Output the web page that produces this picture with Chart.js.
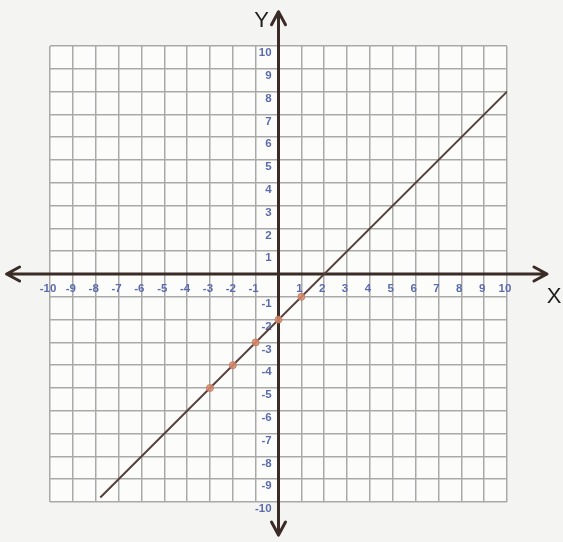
<!DOCTYPE html>
<html>
<head>
<meta charset="utf-8">
<script src="https://cdn.jsdelivr.net/npm/chart.js@4/dist/chart.umd.min.js"></script>
<style>
  html, body { margin: 0; padding: 0; background: #f4f4f2; }
  #wrap { width: 563px; height: 542px; position: relative; }
</style>
</head>
<body>
<div id="wrap"><canvas id="c" width="563" height="542"></canvas></div>
<script>
// ---- data ----
const axisNames = ['X', 'Y'];
const tickValues = [-10, -9, -8, -7, -6, -5, -4, -3, -2, -1, 0, 1, 2, 3, 4, 5, 6, 7, 8, 9, 10];
const lineX = [-7.8, 10];
const lineY = [-9.8, 8];
const pointX = [-3, -2, -1, 0, 1];
const pointY = [-5, -4, -3, -2, -1];
const arrowX = [-11.9, 11.75];
const arrowY = [-11.45, 11.5];

const linePts = lineX.map((x, i) => ({ x: x, y: lineY[i] }));
const markPts = pointX.map((x, i) => ({ x: x, y: pointY[i] }));

const AXIS_COLOR = '#3a2b26';
const TICK_COLOR = '#5b6cad';

const paperPlugin = {
  id: 'paper',
  beforeDraw(chart) {
    const { ctx, chartArea: a } = chart;
    ctx.save();
    ctx.fillStyle = '#f4f4f2';
    ctx.fillRect(0, 0, chart.width, chart.height);
    ctx.fillStyle = '#fcfcfb';
    ctx.fillRect(a.left, a.top, a.right - a.left, a.bottom - a.top);
    ctx.restore();
  }
};

const arrowPlugin = {
  id: 'arrows',
  beforeDatasetsDraw(chart) {
    const { ctx, scales: { x, y } } = chart;
    const x0 = x.getPixelForValue(0);
    const y0 = y.getPixelForValue(0);
    const xl = x.getPixelForValue(arrowX[0]);
    const xr = x.getPixelForValue(arrowX[1]);
    const yt = y.getPixelForValue(arrowY[1]);
    const yb = y.getPixelForValue(arrowY[0]);
    ctx.save();
    ctx.strokeStyle = AXIS_COLOR;
    ctx.lineWidth = 3;
    ctx.lineCap = 'round';
    ctx.lineJoin = 'round';
    ctx.beginPath();
    ctx.moveTo(xl, y0); ctx.lineTo(xr, y0);
    ctx.moveTo(x0, yt); ctx.lineTo(x0, yb);
    // arrow heads
    const h = 13, w = 7;
    ctx.moveTo(xl + h, y0 - w); ctx.lineTo(xl, y0); ctx.lineTo(xl + h, y0 + w);
    ctx.moveTo(xr - h, y0 - w); ctx.lineTo(xr, y0); ctx.lineTo(xr - h, y0 + w);
    ctx.moveTo(x0 - w, yt + h); ctx.lineTo(x0, yt); ctx.lineTo(x0 + w, yt + h);
    ctx.moveTo(x0 - w, yb - h); ctx.lineTo(x0, yb); ctx.lineTo(x0 + w, yb - h);
    ctx.stroke();
    // axis names
    ctx.fillStyle = '#1e1e1e';
    ctx.font = '22px "Liberation Sans", Arial, sans-serif';
    ctx.textAlign = 'center';
    ctx.textBaseline = 'middle';
    ctx.fillText(axisNames[0], xr + 7, y0 + 23);
    ctx.fillText(axisNames[1], x0 - 17, yt + 9);
    ctx.restore();
  }
};

const tickFont = { family: '"Liberation Sans Narrow", "Liberation Sans", Arial, sans-serif', size: 11.5, weight: 'bold' };

new Chart(document.getElementById('c'), {
  type: 'scatter',
  data: {
    datasets: [
      {
        label: 'line',
        data: linePts,
        showLine: true,
        borderColor: '#56403b',
        borderWidth: 2,
        pointRadius: 0,
        order: 2
      },
      {
        label: 'points',
        data: markPts,
        showLine: false,
        backgroundColor: 'rgba(214,140,110,0.85)',
        borderColor: 'rgba(200,120,90,0.9)',
        borderWidth: 1,
        pointRadius: 3.5,
        order: 1
      }
    ]
  },
  options: {
    responsive: false,
    animation: false,
    events: [],
    layout: { padding: { left: 50, right: 56, top: 46, bottom: 40 } },
    plugins: { legend: { display: false }, tooltip: { enabled: false } },
    scales: {
      x: {
        type: 'linear',
        position: { y: 0 },
        min: -10,
        max: 10,
        afterBuildTicks: (s) => { s.ticks = tickValues.map(v => ({ value: v })); },
        grid: { color: '#a9a9a9', lineWidth: 1.5, drawTicks: false },
        border: { display: false },
        ticks: {
          autoSkip: false,
          maxRotation: 0,
          padding: 8,
          labelOffset: -2,
          color: TICK_COLOR,
          font: tickFont,
          callback: (v) => (v === 0 ? '' : String(v))
        }
      },
      y: {
        type: 'linear',
        position: { x: -0.3 },
        min: -10,
        max: 10,
        afterBuildTicks: (s) => { s.ticks = tickValues.map(v => ({ value: v })); },
        grid: { color: '#a9a9a9', lineWidth: 1.5, drawTicks: false },
        border: { display: false },
        ticks: {
          autoSkip: false,
          padding: 8,
          labelOffset: 7,
          color: TICK_COLOR,
          font: tickFont,
          callback: (v) => (v === 0 ? '' : String(v))
        }
      }
    }
  },
  plugins: [paperPlugin, arrowPlugin]
});
</script>
</body>
</html>
